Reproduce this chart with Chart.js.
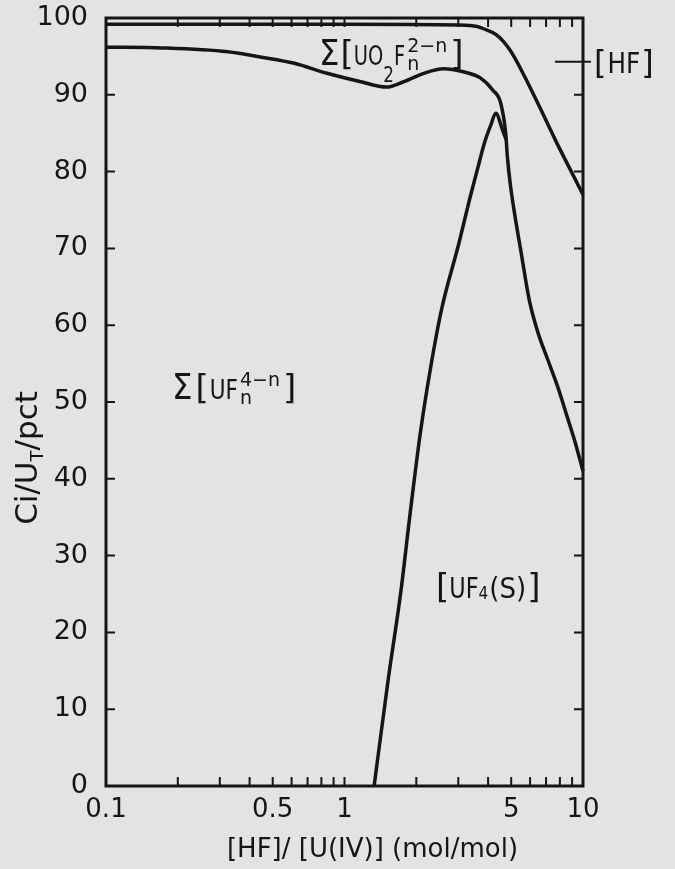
<!DOCTYPE html>
<html>
<head>
<meta charset="utf-8">
<title>Uranium fluoride species distribution</title>
<script src="https://cdn.jsdelivr.net/npm/chart.js@4.4.1/dist/chart.umd.min.js"></script>
<style>
  html, body { margin: 0; padding: 0; background: #e3e3e3; }
  #wrap { width: 675px; height: 869px; }
</style>
</head>
<body>
<div id="wrap"><canvas id="chart" width="675" height="869"></canvas></div>
<script>
// [HF] / [U(IV)] ratio (mol/mol) and cumulative percentages Ci/UT
const hfRatio   = [0.1, 1.0, 3.0, 3.6, 3.83, 4.34, 4.95, 5.60, 6.58, 7.66, 9.0, 10];
const hfPct     = [99.2, 99.2, 99.1, 98.9, 98.6, 97.8, 95.8, 92.8, 88.4, 84.1, 79.8, 77.0];

const uo2Ratio  = [0.1, 0.172, 0.324, 0.449, 0.616, 0.845, 1.17, 1.5, 1.77, 2.15, 2.6, 3.15, 3.71,
                   4.19, 4.52, 4.74, 4.82, 4.95, 5.18, 5.5, 5.95, 6.48, 7.12, 7.83, 8.6, 9.28, 10];
const uo2Pct    = [96.2, 96.1, 95.6, 94.9, 94.1, 92.8, 91.7, 91.0, 91.7, 92.8, 93.4, 93.0, 92.2,
                   90.6, 88.9, 85.0, 81.9, 78.5, 74.3, 69.5, 63.3, 59.0, 55.5, 52.0, 48.0, 44.7, 41.0];

const uf4Ratio  = [1.331, 1.524, 1.726, 1.876, 2.08, 2.30, 2.55, 3.02, 3.34, 3.61, 3.85, 4.1, 4.31, 4.60, 4.76];
const uf4Pct    = [0, 13.8, 25.5, 35.0, 46.0, 54.6, 62.0, 70.7, 76.3, 80.3, 83.6, 86.0, 87.6, 85.4, 84.2];

// axis ticks
const xTickValues = [0.1, 0.2, 0.3, 0.4, 0.5, 0.6, 0.7, 0.8, 0.9, 1, 2, 3, 4, 5, 6, 7, 8, 9, 10];
const xTickLabels = { 0.1: '0.1', 0.5: '0.5', 1: '1', 5: '5', 10: '10' };
const yTickValues = [0, 10, 20, 30, 40, 50, 60, 70, 80, 90, 100];

const hfMarkerLevel = 94.3;   // level of the [HF] leader on the right axis

const INK = '#151515';
const FONT = "'DejaVu Sans'";

function pts(xs, ys) { return xs.map((x, i) => ({ x, y: ys[i] })); }

// draws a run of text pieces (optionally condensed with sx);
// a piece with sup/sub stacks both at the same x
function drawRich(ctx, x, y, parts) {
  ctx.textBaseline = 'alphabetic';
  ctx.textAlign = 'left';
  const put = (t, px, py, sx) => {
    ctx.save();
    ctx.translate(px, py);
    ctx.scale(sx, 1);
    ctx.fillText(t, 0, 0);
    ctx.restore();
    return ctx.measureText(t).width * sx;
  };
  for (const p of parts) {
    ctx.font = p.size + 'px ' + FONT;
    const sx = p.sx || 1;
    if (p.sup !== undefined) {
      const w1 = put(p.sup, x, y + p.supDy, sx);
      const w2 = put(p.sub, x, y + p.subDy, sx);
      x += Math.max(w1, w2) + (p.gap || 0);
    } else {
      x += put(p.t, x, y + (p.dy || 0), sx) + (p.gap || 0);
    }
  }
  return x;
}

function richWidth(ctx, parts) {
  let w = 0;
  for (const p of parts) {
    ctx.font = p.size + 'px ' + FONT;
    const sx = p.sx || 1;
    if (p.sup !== undefined) {
      w += Math.max(ctx.measureText(p.sup).width, ctx.measureText(p.sub).width) * sx + (p.gap || 0);
    } else {
      w += ctx.measureText(p.t).width * sx + (p.gap || 0);
    }
  }
  return w;
}

const frameAndLabels = {
  id: 'frameAndLabels',
  afterDraw(chart) {
    const { ctx, chartArea: a, scales: { x, y } } = chart;
    ctx.save();
    ctx.strokeStyle = INK;
    ctx.fillStyle = INK;

    // inward ticks
    ctx.lineWidth = 2;
    const tl = 9;
    ctx.beginPath();
    for (const v of xTickValues) {
      if (v === 0.1 || v === 10) continue;
      const px = x.getPixelForValue(v);
      ctx.moveTo(px, a.bottom); ctx.lineTo(px, a.bottom - tl);
      ctx.moveTo(px, a.top); ctx.lineTo(px, a.top + tl);
    }
    for (const v of yTickValues) {
      if (v === 0 || v === 100) continue;
      const py = y.getPixelForValue(v);
      ctx.moveTo(a.left, py); ctx.lineTo(a.left + tl, py);
      ctx.moveTo(a.right, py); ctx.lineTo(a.right - tl, py);
    }
    ctx.stroke();

    // frame
    ctx.lineWidth = 3;
    ctx.strokeRect(a.left, a.top, a.right - a.left, a.bottom - a.top);

    // [HF] leader and label
    const yh = y.getPixelForValue(hfMarkerLevel);
    ctx.lineWidth = 2;
    ctx.beginPath();
    ctx.moveTo(a.right - 28, yh); ctx.lineTo(a.right + 8, yh);
    ctx.stroke();
    drawRich(ctx, a.right + 11, yh + 11, [
      { t: '[', size: 32, gap: 1 },
      { t: 'HF', size: 29, sx: 0.85, gap: 1 },
      { t: ']', size: 32 }
    ]);

    // species labels
    drawRich(ctx, 319, 65, [
      { t: 'Σ', size: 36, sx: 0.9, gap: 1 },
      { t: '[', size: 34, gap: 0 },
      { t: 'UO', size: 27, sx: 0.72 },
      { t: '2', size: 21, sx: 0.8, dy: 17 },
      { t: 'F', size: 27, sx: 0.72, gap: 2 },
      { sup: '2−n', sub: 'n', size: 19, supDy: -13, subDy: 5, gap: 3 },
      { t: ']', size: 34 }
    ]);
    drawRich(ctx, 172, 399, [
      { t: 'Σ', size: 36, sx: 0.9, gap: 3 },
      { t: '[', size: 34, gap: 1 },
      { t: 'UF', size: 27, sx: 0.8, gap: 2 },
      { sup: '4−n', sub: 'n', size: 19, supDy: -13, subDy: 5, gap: 3 },
      { t: ']', size: 34 }
    ]);
    drawRich(ctx, 436, 598, [
      { t: '[', size: 34, gap: 0 },
      { t: 'UF', size: 28, sx: 0.8 },
      { t: '4', size: 18, sx: 0.85, dy: 1, gap: 1 },
      { t: '(S)', size: 29, sx: 0.9, gap: 1 },
      { t: ']', size: 34 }
    ]);

    // x title
    ctx.font = '26px ' + FONT;
    ctx.textAlign = 'center';
    ctx.textBaseline = 'alphabetic';
    ctx.fillText('[HF]/ [U(IV)] (mol/mol)', (a.left + a.right) / 2 + 28, 857);

    // y title, rotated, with subscript T
    const yTitle = [
      { t: 'Ci/U', size: 31 },
      { t: 'T', size: 18, dy: 6 },
      { t: '/pct', size: 31 }
    ];
    ctx.save();
    ctx.translate(37, 458);
    ctx.rotate(-Math.PI / 2);
    const w = richWidth(ctx, yTitle);
    drawRich(ctx, -w / 2, 0, yTitle);
    ctx.restore();

    ctx.restore();
  }
};

const lineStyle = {
  borderColor: INK,
  borderWidth: 3.5,
  pointRadius: 0,
  fill: false,
  cubicInterpolationMode: 'monotone',
  clip: false
};

new Chart(document.getElementById('chart'), {
  type: 'line',
  data: {
    datasets: [
      { label: '[HF]', data: pts(hfRatio, hfPct), ...lineStyle },
      { label: 'Σ[UO2Fn]', data: pts(uo2Ratio, uo2Pct), ...lineStyle },
      { label: '[UF4(S)]', data: pts(uf4Ratio, uf4Pct), ...lineStyle }
    ]
  },
  options: {
    responsive: false,
    animation: false,
    devicePixelRatio: 1,
    layout: { padding: { top: 18, right: 92, left: 0, bottom: 0 } },
    plugins: { legend: { display: false }, tooltip: { enabled: false }, title: { display: false } },
    scales: {
      x: {
        type: 'logarithmic',
        min: 0.1,
        max: 10,
        afterBuildTicks: s => { s.ticks = xTickValues.map(v => ({ value: v })); },
        afterFit: s => { s.height = 83; s.paddingLeft = 0; s.paddingRight = 0; },
        grid: { display: false, drawTicks: false },
        border: { display: false },
        ticks: {
          autoSkip: false,
          maxRotation: 0,
          padding: 9,
          color: INK,
          font: { family: 'DejaVu Sans', size: 26 },
          callback: v => xTickLabels[v] || ''
        }
      },
      y: {
        min: 0,
        max: 100,
        afterBuildTicks: s => { s.ticks = yTickValues.map(v => ({ value: v })); },
        afterFit: s => { s.width = 106; s.paddingTop = 0; s.paddingBottom = 0; },
        grid: { display: false, drawTicks: false },
        border: { display: false },
        ticks: {
          padding: 18,
          color: INK,
          font: { family: 'DejaVu Sans', size: 27 }
        }
      }
    }
  },
  plugins: [frameAndLabels]
});
</script>
</body>
</html>
